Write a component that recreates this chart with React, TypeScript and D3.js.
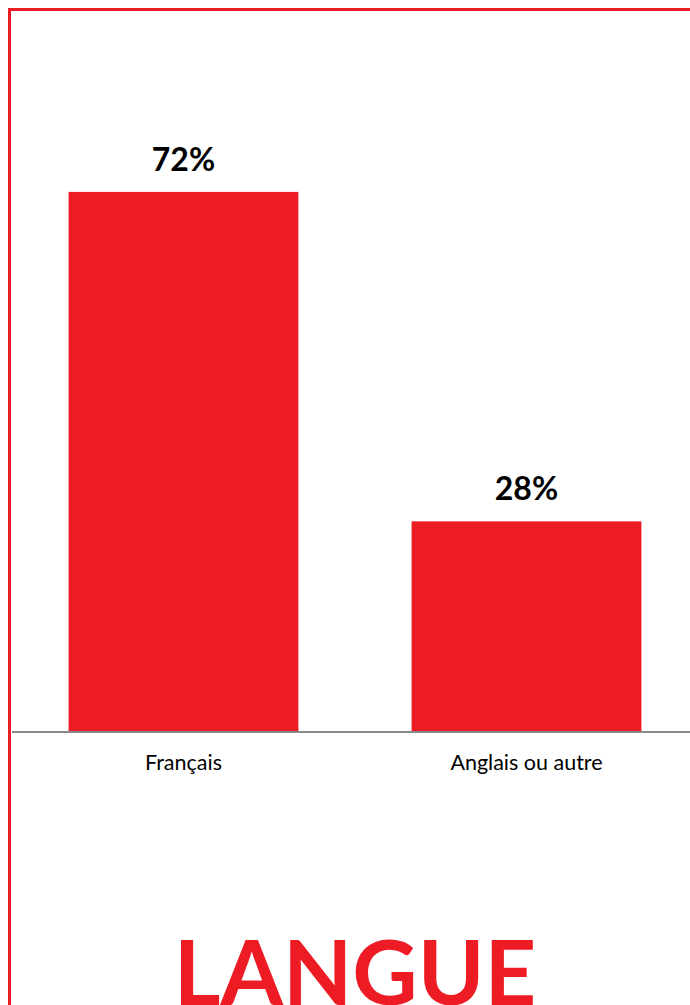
import React, { useEffect, useRef } from 'react';
import * as d3 from 'd3';

const categories = ['Français', 'Anglais ou autre'];
const values = [72, 28];
const valueLabels = ['72%', '28%'];
const title = 'LANGUE';

const RED = '#ED1C24';

export default function App() {
    const ref = useRef<SVGSVGElement>(null);

    useEffect(() => {
        const width = 690, height = 1005;
        const svg = d3.select(ref.current)
            .attr('width', width)
            .attr('height', height);
        svg.selectAll('*').remove();

        // frame
        svg.append('rect')
            .attr('x', 9.5).attr('y', 9.5)
            .attr('width', 700).attr('height', 1020)
            .attr('fill', 'none')
            .attr('stroke', RED)
            .attr('stroke-width', 3);

        const x = d3.scaleBand<string>()
            .domain(categories)
            .range([12, 698])
            .paddingInner(0.33)
            .paddingOuter(0.165);

        const y = d3.scaleLinear()
            .domain([0, 80])
            .range([731, 132]);

        const data = categories.map((c, i) => ({ cat: c, value: values[i], label: valueLabels[i] }));

        svg.append('g').selectAll('rect')
            .data(data)
            .enter().append('rect')
            .attr('x', d => x(d.cat)!)
            .attr('y', d => y(d.value))
            .attr('width', x.bandwidth())
            .attr('height', d => y(0) - y(d.value))
            .attr('fill', RED);

        // baseline
        svg.append('line')
            .attr('x1', 12).attr('x2', width)
            .attr('y1', y(0) + 1).attr('y2', y(0) + 1)
            .attr('stroke', '#898989')
            .attr('stroke-width', 2);

        svg.append('g').selectAll('text')
            .data(data)
            .enter().append('text')
            .attr('x', d => x(d.cat)! + x.bandwidth() / 2)
            .attr('y', d => y(d.value) - 21)
            .attr('text-anchor', 'middle')
            .attr('font-family', 'Lato, sans-serif')
            .attr('font-weight', 'bold')
            .attr('font-size', 32)
            .attr('fill', '#000')
            .text(d => d.label);

        svg.append('g').selectAll('text')
            .data(data)
            .enter().append('text')
            .attr('x', d => x(d.cat)! + x.bandwidth() / 2)
            .attr('y', 770)
            .attr('text-anchor', 'middle')
            .attr('font-family', 'Lato, sans-serif')
            .attr('font-size', 21.5)
            .attr('fill', '#000')
            .text(d => d.cat);

        svg.append('text')
            .attr('x', 355)
            .attr('y', 1005)
            .attr('text-anchor', 'middle')
            .attr('font-family', 'Lato, sans-serif')
            .attr('font-weight', 'bold')
            .attr('font-size', 90)
            .attr('fill', RED)
            .text(title);
    }, []);

    return (
        <svg ref={ref} style={{ position: 'absolute', left: 0, top: 0, display: 'block' }}></svg>
    );
}
